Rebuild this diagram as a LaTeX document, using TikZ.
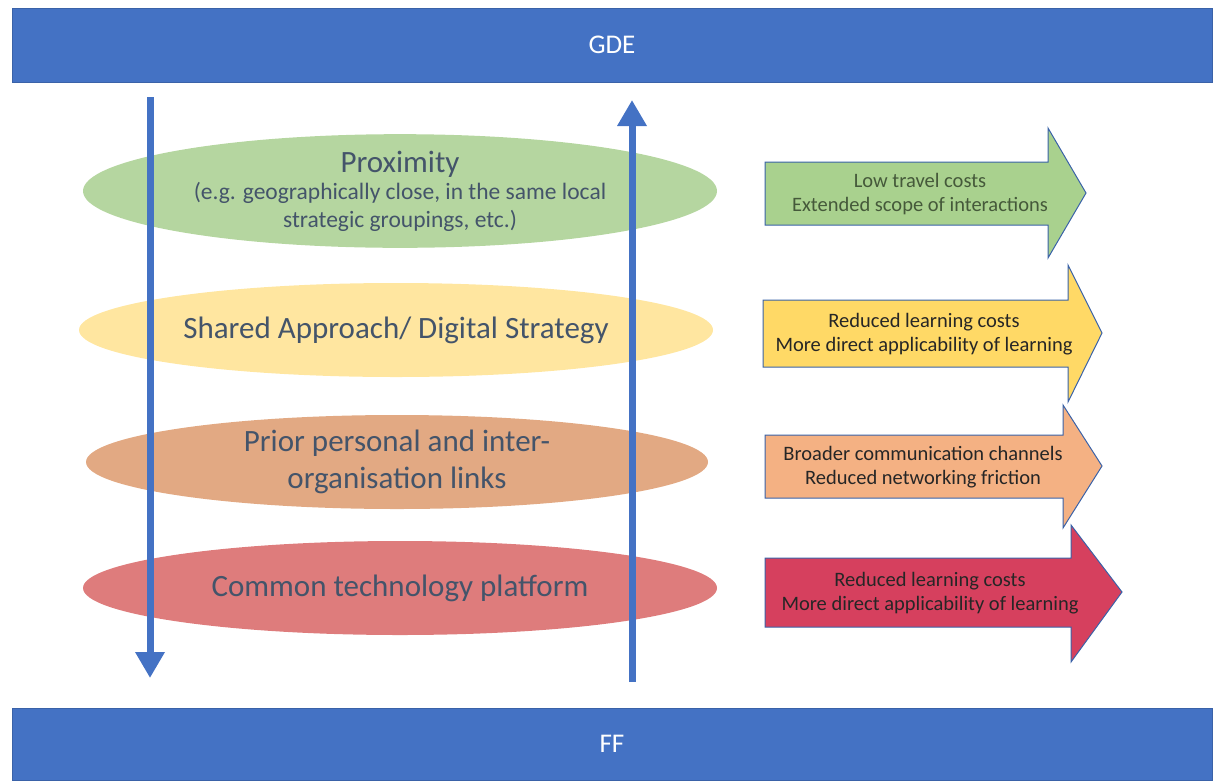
\documentclass[tikz,border=0pt]{standalone}
\usepackage{fontspec}
\setmainfont{Carlito}
\usetikzlibrary{arrows.meta,shapes.geometric}
\definecolor{barblue}{HTML}{4472C4}
\definecolor{edgeblue}{HTML}{3A62A8}
\definecolor{layertext}{HTML}{44546A}
\definecolor{proxfill}{HTML}{B5D6A0}
\definecolor{sharedfill}{HTML}{FFE6A0}
\definecolor{linksfill}{HTML}{E2A983}
\definecolor{techfill}{HTML}{DE7C7C}
\definecolor{greengain}{HTML}{A9D18E}
\definecolor{yellowgain}{HTML}{FFD966}
\definecolor{orangegain}{HTML}{F4B183}
\definecolor{redgain}{HTML}{D6405E}
\definecolor{greentext}{HTML}{45593A}

\begin{document}
\begin{tikzpicture}[x=1pt,y=-1pt,
bar/.style={rectangle,fill=barblue,draw=edgeblue,line width=1pt,text=white,minimum width=1200pt,font=\fontsize{27}{30}\selectfont},
layer/.style={ellipse,minimum width=634pt,minimum height=94pt,inner sep=0pt,text=layertext,align=center,font=\fontsize{31}{37}\selectfont},
flow/.style={line width=7pt,draw=barblue,-{Triangle[width=28pt,length=26pt]}},
gain/.style={draw=edgeblue,line width=1pt},
gaintext/.style={align=center,text=black!85,font=\fontsize{20.5}{24}\selectfont}]

\useasboundingbox (0,0) rectangle (1217,780);

% top and bottom bars
\draw (612,45) node[bar,minimum height=74pt] (gde) {GDE};
\draw (612,744) node[bar,minimum height=72pt] (ff) {FF};

% layers
\draw (400,191) node[layer,fill=proxfill] (prox) {Proximity\\[-10pt]{\fontsize{23.5}{28}\selectfont (e.g. geographically close, in the same local}\\[-9pt]{\fontsize{23.5}{28}\selectfont strategic groupings, etc.)}};
\draw (396,330) node[layer,fill=sharedfill] (shared) {Shared Approach/ Digital Strategy};
\draw (397,462) node[layer,fill=linksfill,minimum width=622pt] (links) {Prior personal and inter-\\organisation links};
\draw (400,588) node[layer,fill=techfill] (tech) {Common technology platform};

% vertical flows
\coordinate (downtop) at (150,97);
\coordinate (downend) at (150,678);
\coordinate (upbottom) at (632,682);
\coordinate (uptop) at (632,100);
\draw[flow] (downtop) -- (downend);
\draw[flow] (upbottom) -- (uptop);

% gains
\draw[gain,fill=greengain] (765,162) -- (1048,162) -- (1048,128) -- (1086,193) -- (1048,258) -- (1048,225) -- (765,225) -- cycle;
\draw (920,194) node[gaintext,text=greentext] (proxgain) {Low travel costs\\Extended scope of interactions};

\draw[gain,fill=yellowgain] (763,300) -- (1068,300) -- (1068,265) -- (1102,333) -- (1068,402) -- (1068,367) -- (763,367) -- cycle;
\draw (924,334) node[gaintext] (sharedgain) {Reduced learning costs\\More direct applicability of learning};

\draw[gain,fill=orangegain] (765,435) -- (1063,435) -- (1063,405) -- (1102,466) -- (1063,528) -- (1063,498) -- (765,498) -- cycle;
\draw (923,467) node[gaintext] (linksgain) {Broader communication channels\\Reduced networking friction};

\draw[gain,fill=redgain] (765,558) -- (1071,558) -- (1071,525) -- (1122,592) -- (1071,662) -- (1071,627) -- (765,627) -- cycle;
\draw (930,593) node[gaintext] (techgain) {Reduced learning costs\\More direct applicability of learning};

\end{tikzpicture}
\end{document}
